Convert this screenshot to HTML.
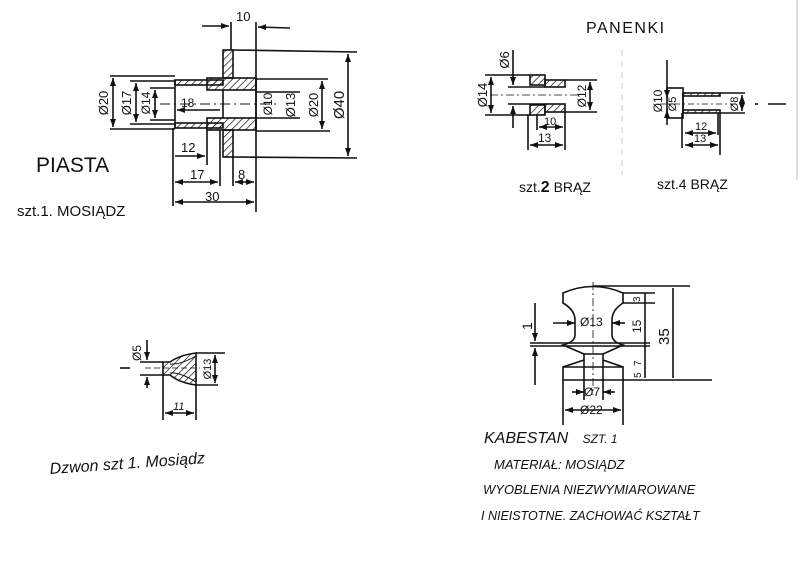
<!DOCTYPE html>
<html><head><meta charset="utf-8"><style>
html,body{margin:0;padding:0;background:#fff;width:800px;height:566px;overflow:hidden}
svg{display:block}
text{font-family:"Liberation Sans",sans-serif;fill:#111}
</style></head><body>
<svg width="800" height="566" viewBox="0 0 800 566" xmlns="http://www.w3.org/2000/svg">
<defs>
<pattern id="h" width="5" height="5" patternUnits="userSpaceOnUse" patternTransform="rotate(45)">
<line x1="0" y1="0" x2="0" y2="5" stroke="#111" stroke-width="1.4"/></pattern>
<marker id="a" markerWidth="8" markerHeight="6" refX="8" refY="3" orient="auto-start-reverse" markerUnits="userSpaceOnUse"><path d="M0,0 L8,3 L0,6 z" fill="#111"/></marker>
</defs>
<g stroke="#111" stroke-width="1.6" fill="none">
<!-- PIASTA -->
<rect x="223" y="50" width="10" height="28" fill="url(#h)"/>
<rect x="223" y="130" width="10" height="27" fill="url(#h)"/>
<rect x="175" y="80" width="48" height="5" fill="url(#h)"/>
<rect x="175" y="123" width="48" height="5" fill="url(#h)"/>
<rect x="207" y="78" width="49" height="12" fill="url(#h)"/>
<rect x="207" y="118" width="49" height="12" fill="url(#h)"/>
<line x1="175" y1="80" x2="175" y2="128"/>
<line x1="256" y1="78" x2="256" y2="130"/>
<line x1="223" y1="90" x2="223" y2="118"/>
<line x1="233" y1="50" x2="357" y2="52"/>
<line x1="233" y1="157" x2="357" y2="158"/>
<line x1="110" y1="76" x2="175" y2="76"/>
<line x1="110" y1="129" x2="175" y2="129"/>
<line x1="130" y1="81" x2="175" y2="81"/>
<line x1="130" y1="124" x2="175" y2="124"/>
<line x1="150" y1="88" x2="175" y2="88"/>
<line x1="150" y1="120" x2="175" y2="120"/>
<line x1="256" y1="92" x2="300" y2="92"/>
<line x1="256" y1="118" x2="300" y2="118"/>
<line x1="256" y1="79" x2="328" y2="79"/>
<line x1="256" y1="131" x2="330" y2="131"/>
<line x1="113" y1="78" x2="113" y2="127" marker-start="url(#a)" marker-end="url(#a)"/>
<line x1="136" y1="83" x2="136" y2="122" marker-start="url(#a)" marker-end="url(#a)"/>
<line x1="155" y1="90" x2="155" y2="118" marker-start="url(#a)" marker-end="url(#a)"/>
<line x1="322" y1="81" x2="322" y2="129" marker-start="url(#a)" marker-end="url(#a)"/>
<line x1="348" y1="54" x2="348" y2="156" marker-start="url(#a)" marker-end="url(#a)"/>
<line x1="177" y1="110" x2="220" y2="110" marker-start="url(#a)"/>
<line x1="160" y1="104" x2="280" y2="104" stroke-dasharray="10,4,2,4" stroke-width="0.9"/>
<line x1="231" y1="22" x2="231" y2="50"/>
<line x1="256" y1="22" x2="256" y2="212"/>
<line x1="202" y1="26" x2="229" y2="26" marker-end="url(#a)"/>
<line x1="290" y1="28" x2="258" y2="27" marker-end="url(#a)"/>
<line x1="173" y1="128" x2="173" y2="206"/>
<line x1="207" y1="128" x2="207" y2="165"/>
<line x1="220" y1="130" x2="220" y2="186"/>
<line x1="233" y1="157" x2="233" y2="186"/>
<line x1="175" y1="156" x2="205" y2="156" marker-end="url(#a)"/>
<line x1="175" y1="182" x2="218" y2="182" marker-start="url(#a)" marker-end="url(#a)"/>
<line x1="235" y1="182" x2="254" y2="182" marker-start="url(#a)" marker-end="url(#a)"/>
<line x1="175" y1="202" x2="254" y2="202" marker-start="url(#a)" marker-end="url(#a)"/>
<!-- PANENKI 1 -->
<rect x="530" y="75" width="15" height="10" fill="url(#h)"/>
<rect x="530" y="105" width="15" height="10" fill="url(#h)"/>
<rect x="545" y="80" width="20" height="7" fill="url(#h)"/>
<rect x="545" y="104" width="20" height="8" fill="url(#h)"/>
<line x1="485" y1="75" x2="530" y2="75"/><line x1="485" y1="115" x2="530" y2="115"/>
<line x1="565" y1="80" x2="597" y2="80"/><line x1="565" y1="112" x2="597" y2="112"/>
<line x1="508" y1="87" x2="545" y2="87"/><line x1="508" y1="104" x2="545" y2="104"/>
<line x1="490" y1="95" x2="580" y2="95" stroke-dasharray="8,3,2,3" stroke-width="0.8"/>
<line x1="491" y1="77" x2="491" y2="113" marker-start="url(#a)" marker-end="url(#a)"/>
<line x1="590" y1="82" x2="590" y2="110" marker-start="url(#a)" marker-end="url(#a)"/>
<line x1="513" y1="50" x2="513" y2="85" marker-end="url(#a)"/>
<line x1="513" y1="128" x2="513" y2="106" marker-end="url(#a)"/>
<line x1="528" y1="115" x2="528" y2="150"/><line x1="537" y1="115" x2="537" y2="130"/><line x1="565" y1="112" x2="565" y2="150"/>
<line x1="539" y1="127" x2="563" y2="127" marker-start="url(#a)" marker-end="url(#a)"/>
<line x1="530" y1="145" x2="563" y2="145" marker-start="url(#a)" marker-end="url(#a)"/>
<!-- PANENKI 2 -->
<rect x="667" y="88" width="16" height="30"/>
<rect x="683" y="93" width="37" height="3" fill="url(#h)"/>
<rect x="683" y="110" width="37" height="3" fill="url(#h)"/>
<line x1="683" y1="93" x2="683" y2="113"/>
<line x1="720" y1="93" x2="745" y2="93"/><line x1="720" y1="113" x2="745" y2="113"/>
<line x1="660" y1="104" x2="740" y2="104" stroke-dasharray="6,3,2,3" stroke-width="0.8"/>
<line x1="755" y1="104" x2="758" y2="104"/><line x1="768" y1="104" x2="786" y2="104"/>
<line x1="667" y1="60" x2="667" y2="98" marker-end="url(#a)"/>
<line x1="667" y1="125" x2="667" y2="110" marker-end="url(#a)"/>
<line x1="742" y1="95" x2="742" y2="111" marker-start="url(#a)" marker-end="url(#a)"/>
<line x1="682" y1="113" x2="682" y2="148"/><line x1="718" y1="113" x2="718" y2="135"/><line x1="720" y1="113" x2="720" y2="155"/>
<line x1="685" y1="133" x2="716" y2="133" marker-start="url(#a)" marker-end="url(#a)"/>
<line x1="685" y1="145" x2="718" y2="145" marker-start="url(#a)" marker-end="url(#a)"/>
<line x1="622" y1="50" x2="622" y2="175" stroke="#bbb" stroke-dasharray="6,5" stroke-width="0.8"/>
<line x1="797" y1="0" x2="797" y2="180" stroke="#aaa" stroke-width="0.8"/>
<!-- KABESTAN -->
<path d="M563,293 Q593,280 623,293 L623,303 Q612,310 612,320 L612,335 Q612,342 623,345 L603,354 L603,360 L623,367 L623,380 L563,380 L563,367 L584,360 L584,354 L563,345 Q575,342 575,335 L575,320 Q575,310 563,303 Z"/>
<line x1="563" y1="367" x2="623" y2="367"/>
<line x1="584" y1="354" x2="603" y2="354"/>
<line x1="593" y1="282" x2="593" y2="395" stroke-dasharray="8,3,2,3" stroke-width="0.8"/>
<line x1="563" y1="380" x2="563" y2="425"/><line x1="623" y1="380" x2="623" y2="425"/>
<line x1="584" y1="360" x2="584" y2="400"/><line x1="603" y1="360" x2="603" y2="400"/>
<line x1="565" y1="410" x2="621" y2="410" marker-start="url(#a)" marker-end="url(#a)"/>
<line x1="572" y1="392" x2="584" y2="392" marker-end="url(#a)"/><line x1="615" y1="392" x2="603" y2="392" marker-end="url(#a)"/>
<line x1="553" y1="323" x2="575" y2="323" marker-end="url(#a)"/><line x1="625" y1="323" x2="612" y2="323" marker-end="url(#a)"/>
<line x1="593" y1="286" x2="690" y2="286"/>
<line x1="623" y1="293" x2="655" y2="293"/><line x1="623" y1="303" x2="655" y2="303"/>
<line x1="530" y1="343" x2="650" y2="343"/><line x1="530" y1="346" x2="650" y2="346"/>
<line x1="623" y1="380" x2="712" y2="380"/>
<line x1="673" y1="288" x2="673" y2="378"/>
<line x1="645" y1="293" x2="645" y2="378"/>
<line x1="535" y1="303" x2="535" y2="341" marker-end="url(#a)"/>
<line x1="535" y1="385" x2="535" y2="348" marker-end="url(#a)"/>
<!-- DZWON -->
<path d="M163,362 L163,375 L170,375 Q180,383 196,385 L196,353 Q180,355 170,362 Z" fill="url(#h)"/>
<path d="M170,364 Q180,365 196,356 M170,373 Q180,372 196,382" stroke-width="1"/>
<line x1="120" y1="368" x2="130" y2="368"/><line x1="145" y1="368" x2="200" y2="368" stroke-dasharray="6,3" stroke-width="0.8"/>
<line x1="140" y1="362" x2="163" y2="362"/><line x1="140" y1="375" x2="163" y2="375"/>
<line x1="196" y1="353" x2="225" y2="353"/><line x1="196" y1="385" x2="218" y2="385"/>
<line x1="147" y1="340" x2="147" y2="360" marker-end="url(#a)"/>
<line x1="147" y1="388" x2="147" y2="377" marker-end="url(#a)"/>
<line x1="215" y1="355" x2="215" y2="383" marker-start="url(#a)" marker-end="url(#a)"/>
<line x1="163" y1="375" x2="163" y2="420"/><line x1="196" y1="385" x2="196" y2="420"/>
<line x1="165" y1="413" x2="194" y2="413" marker-start="url(#a)" marker-end="url(#a)"/>
</g>
<g font-size="13">
<text x="236" y="21">10</text>
<text x="181" y="107" font-size="12">18</text>
<text x="181" y="152">12</text>
<text x="190" y="179">17</text>
<text x="238" y="179">8</text>
<text x="205" y="201">30</text>
<text transform="translate(108,103) rotate(-90)" text-anchor="middle">Ø20</text>
<text transform="translate(131,103) rotate(-90)" text-anchor="middle">Ø17</text>
<text transform="translate(150,103) rotate(-90)" text-anchor="middle" font-size="12">Ø14</text>
<text transform="translate(272,104) rotate(-90)" text-anchor="middle" font-size="12">Ø10</text>
<text transform="translate(295,105) rotate(-90)" text-anchor="middle">Ø13</text>
<text transform="translate(318,105) rotate(-90)" text-anchor="middle">Ø20</text>
<text transform="translate(344,105) rotate(-90)" text-anchor="middle" font-size="15">Ø40</text>
<text x="36" y="172" font-size="21">PIASTA</text>
<text x="17" y="216" font-size="15">szt.1.  MOSIĄDZ</text>
<text x="586" y="33" font-size="16" letter-spacing="1.5">PANENKI</text>
<text transform="translate(487,95) rotate(-90)" text-anchor="middle">Ø14</text>
<text transform="translate(509,60) rotate(-90)" text-anchor="middle">Ø6</text>
<text transform="translate(586,96) rotate(-90)" text-anchor="middle" font-size="12">Ø12</text>
<text x="544" y="125" font-size="11">10</text>
<text x="538" y="142" font-size="12">13</text>
<text x="519" y="192" font-size="14">szt.<tspan font-weight="bold" font-size="16">2</tspan> BRĄZ</text>
<text transform="translate(662,101) rotate(-90)" text-anchor="middle" font-size="12">Ø10</text>
<text transform="translate(676,104) rotate(-90)" text-anchor="middle" font-size="11">Ø5</text>
<text transform="translate(738,104) rotate(-90)" text-anchor="middle" font-size="11">Ø8</text>
<text x="695" y="130" font-size="11">12</text>
<text x="694" y="142" font-size="11">13</text>
<text x="657" y="189" font-size="14">szt.4  BRĄZ</text>
<text x="580" y="326" font-size="12">Ø13</text>
<text x="584" y="396" font-size="12">Ø7</text>
<text x="580" y="414" font-size="12">Ø22</text>
<text transform="translate(640,302) rotate(-90)" font-size="10">3</text>
<text transform="translate(641,333) rotate(-90)" font-size="12">15</text>
<text transform="translate(641,366) rotate(-90)" font-size="10">7</text>
<text transform="translate(641,378) rotate(-90)" font-size="10">5</text>
<text transform="translate(669,345) rotate(-90)" font-size="15">35</text>
<text transform="translate(532,330) rotate(-90)" font-size="14">1</text>
<text transform="translate(141,353) rotate(-90)" text-anchor="middle" font-size="12">Ø5</text>
<text transform="translate(211,369) rotate(-90)" text-anchor="middle" font-size="11">Ø13</text>
<text x="173" y="410" font-size="11" font-style="italic">11</text>
<text transform="translate(50,474) rotate(-4)" font-size="16" font-style="italic">Dzwon  szt 1.  Mosiądz</text>
<text x="484" y="443" font-size="16" font-style="italic">KABESTAN <tspan font-size="12" dx="10">SZT. 1</tspan></text>
<text x="494" y="469" font-size="13" font-style="italic">MATERIAŁ: MOSIĄDZ</text>
<text x="483" y="494" font-size="13" font-style="italic">WYOBLENIA NIEZWYMIAROWANE</text>
<text x="481" y="520" font-size="12.5" font-style="italic">I NIEISTOTNE. ZACHOWAĆ  KSZTAŁT</text>
</g>
</svg>
</body></html>
